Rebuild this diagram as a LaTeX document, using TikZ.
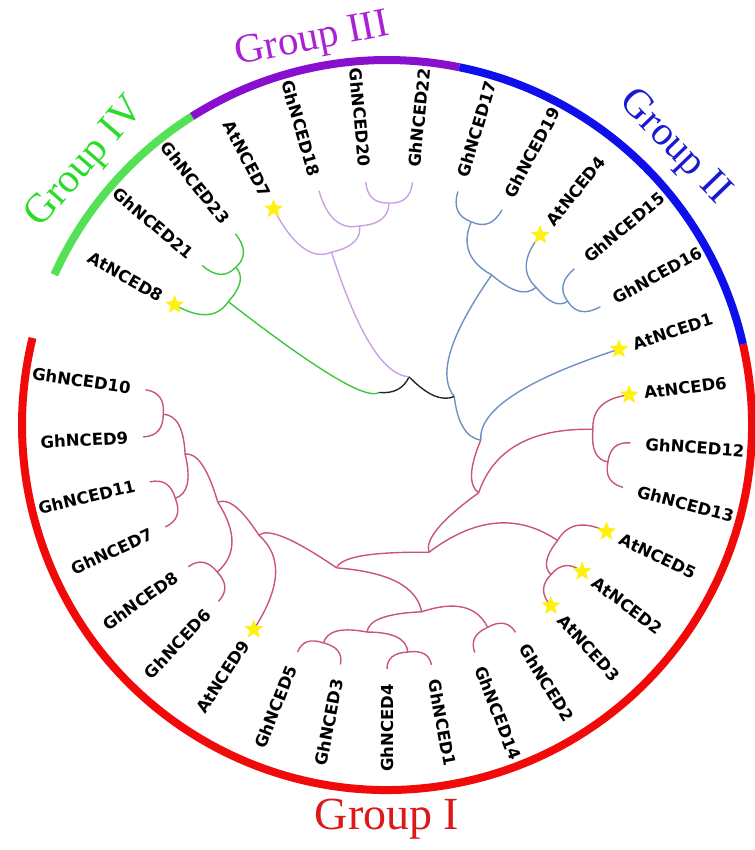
\documentclass[tikz,border=0pt]{standalone}
\usepackage{fontspec}
\usetikzlibrary{calc,shapes.geometric}
\newfontfamily\labfont{DejaVu Sans}
\newfontfamily\grpfont{Liberation Serif}
\definecolor{brR}{RGB}{200,85,115}
\definecolor{brB}{RGB}{110,145,195}
\definecolor{brP}{RGB}{200,160,228}
\definecolor{brG}{RGB}{60,200,60}
\definecolor{rgR}{RGB}{240,10,10}
\definecolor{rgB}{RGB}{15,15,235}
\definecolor{rgP}{RGB}{135,15,205}
\definecolor{rgG}{RGB}{85,225,85}
\definecolor{gI}{RGB}{220,25,25}
\definecolor{gII}{RGB}{25,25,210}
\definecolor{gIII}{RGB}{170,35,210}
\definecolor{gIV}{RGB}{40,220,40}
\definecolor{starY}{RGB}{255,240,20}
\newcommand\leafR[3]{%
  \coordinate (#1) at (#2:244);
  \node[lab, anchor=west, rotate=#2] (#1-l) at (#2:259) {#3};}
\newcommand\leafL[3]{%
  \coordinate (#1) at (#2:244);
  \node[lab, anchor=east, rotate=#2+180] (#1-l) at (#2:259) {#3};}
\newcommand\br[4]{%
  \path ($(O)!#4pt!(#3)$) coordinate (cc);
  \draw[#1] (#2) .. controls ($(#2)!0.667!(cc)$) and ($(#3)!0.667!(cc)$) .. (#3);}
\newcommand\starat[1]{\node[ystar] (#1-s) at (#1) {};}
\begin{document}
\begin{tikzpicture}[x=1pt,y=1pt,
  lab/.style={font=\labfont\bfseries\fontsize{16.5}{18}\selectfont, inner sep=0pt},
  grp/.style={font=\grpfont\fontsize{41}{41}\selectfont, inner sep=0pt, anchor=base},
  red/.style={draw=brR, line width=1.4pt},
  blue/.style={draw=brB, line width=1.4pt},
  purp/.style={draw=brP, line width=1.4pt},
  grn/.style={draw=brG, line width=1.4pt},
  blk/.style={draw=black!85, line width=1.4pt},
  ystar/.style={star, star points=5, star point ratio=2.3, fill=starY, draw=none, minimum size=20pt, inner sep=0pt},
  ring/.style={line width=8pt, line cap=butt}]
\useasboundingbox (-387,-425) rectangle (367,425);
\coordinate (O) at (0,0);
% outer ring
\draw[ring, rgR] (12.8:365) arc[start angle=12.8, end angle=-193.8, radius=365pt];
\draw[ring, rgB] (78.6:365) arc[start angle=78.6, end angle=12.8, radius=365pt];
\draw[ring, rgP] (122.3:365) arc[start angle=122.3, end angle=78.6, radius=365pt];
\draw[ring, rgG] (155.7:365) arc[start angle=155.7, end angle=122.3, radius=365pt];
% group labels
\node[grp, text=gI, font=\grpfont\fontsize{46}{46}\selectfont] (gr1) at (270:404) {Group I};
\node[grp, text=gII, rotate=-46] (gr2) at (44:390) {Group II};
\node[grp, text=gIII, rotate=11] (gr3) at (101:382) {Group III};
\node[grp, text=gIV, rotate=49] (gr4) at (139:390) {Group IV};
% leaves
\leafL{l0}{171.7}{GhNCED10}
\leafL{l1}{182.8}{GhNCED9}
\leafL{l2}{193.5}{GhNCED11}
\leafL{l3}{204.7}{GhNCED7}
\leafL{l4}{215.5}{GhNCED8}
\leafL{l5}{226.3}{GhNCED6}
\leafL{l6}{236.9}{AtNCED9}
\leafL{l7}{248.5}{GhNCED5}
\leafL{l8}{259}{GhNCED3}
\leafL{l9}{270}{GhNCED4}
\leafR{l10}{280.5}{GhNCED1}
\leafR{l11}{291.1}{GhNCED14}
\leafR{l12}{301.8}{GhNCED2}
\leafR{l13}{312.2}{AtNCED3}
\leafR{l14}{323.1}{AtNCED2}
\leafR{l15}{334.1}{AtNCED5}
\leafR{l16}{345.2}{GhNCED13}
\leafR{l17}{355.8}{GhNCED12}
\leafR{l18}{367.1}{AtNCED6}
\leafR{l19}{378.1}{AtNCED1}
\leafR{l20}{389}{GhNCED16}
\leafR{l21}{399.8}{GhNCED15}
\leafR{l22}{411.1}{AtNCED4}
\leafR{l23}{421.9}{GhNCED19}
\leafR{l24}{433.1}{GhNCED17}
\leafR{l25}{444}{GhNCED22}
\leafL{l26}{455}{GhNCED20}
\leafL{l27}{466.2}{GhNCED18}
\leafL{l28}{477.7}{AtNCED7}
\leafL{l29}{488.4}{GhNCED23}
\leafL{l30}{499.2}{GhNCED21}
\leafL{l31}{510.5}{AtNCED8}
% internal nodes
\coordinate (a1) at (177.25:224);
\coordinate (a2) at (199.1:224);
\coordinate (a3) at (188.2:204);
\coordinate (a4) at (220.9:224.6);
\coordinate (a5) at (204.55:186);
\coordinate (a6) at (220.7:169);
\coordinate (a7) at (250.6:151.5);
\coordinate (b3) at (253.75:227);
\coordinate (b5) at (275.25:228);
\coordinate (b2) at (264.5:208);
\coordinate (b4) at (296.45:226);
\coordinate (b1) at (280.5:190);
\coordinate (c2) at (317.65:222);
\coordinate (c1) at (325.9:206);
\coordinate (N5) at (288.25:134);
\coordinate (d2) at (350.5:224);
\coordinate (d1) at (358.8:206);
\coordinate (N4) at (323.5:114);
\coordinate (N3) at (350.8:95);
\coordinate (g2d) at (394.4:219);
\coordinate (g2c) at (402.75:203);
\coordinate (g2b) at (427.5:220);
\coordinate (g2a) at (415.1:183);
\coordinate (N2) at (382.95:73);
\coordinate (p3) at (449.5:222);
\coordinate (p2) at (457.85:201);
\coordinate (p1) at (467.8:181.5);
\coordinate (N1) at (425.4:53);
\coordinate (q2) at (493.8:218.5);
\coordinate (q1) at (502.15:201);
\coordinate (root) at (463.8:33.5);
% Group I branches
\br{red}{a1}{l0}{224} \br{red}{a1}{l1}{224}
\br{red}{a2}{l2}{224} \br{red}{a2}{l3}{224}
\br{red}{a3}{a1}{204} \br{red}{a3}{a2}{204}
\br{red}{a4}{l4}{224.6} \br{red}{a4}{l5}{224.6}
\br{red}{a5}{a3}{186} \br{red}{a5}{a4}{186}
\br{red}{a6}{a5}{169} \br{red}{a6}{l6}{169}
\br{red}{a7}{a6}{151.5} \br{red}{a7}{b1}{151.5}
\br{red}{b3}{l7}{227} \br{red}{b3}{l8}{227}
\br{red}{b5}{l9}{228} \br{red}{b5}{l10}{228}
\br{red}{b2}{b3}{208} \br{red}{b2}{b5}{208}
\br{red}{b4}{l11}{226} \br{red}{b4}{l12}{226}
\br{red}{b1}{b2}{190} \br{red}{b1}{b4}{190}
\br{red}{c2}{l13}{222} \br{red}{c2}{l14}{222}
\br{red}{c1}{l15}{206} \br{red}{c1}{c2}{206}
\br{red}{N5}{a7}{134} \br{red}{N5}{c1}{134}
\br{red}{d2}{l16}{224} \br{red}{d2}{l17}{224}
\br{red}{d1}{l18}{206} \br{red}{d1}{d2}{206}
\br{red}{N4}{N5}{114} \br{red}{N4}{d1}{114}
\br{red}{N3}{N4}{95}
% Group II branches
\br{blue}{N3}{l19}{95}
\br{blue}{N2}{N3}{73} \br{blue}{N2}{g2a}{73}
\br{blue}{g2a}{g2c}{183} \br{blue}{g2a}{g2b}{183}
\br{blue}{g2c}{l22}{203} \br{blue}{g2c}{g2d}{203}
\br{blue}{g2d}{l20}{219} \br{blue}{g2d}{l21}{219}
\br{blue}{g2b}{l23}{220} \br{blue}{g2b}{l24}{220}
% root
\br{blk}{root}{N1}{33.5} \br{blk}{N1}{N2}{53}
% Group III
\br{purp}{N1}{p1}{53}
\br{purp}{p1}{p2}{181.5} \br{purp}{p1}{l28}{181.5}
\br{purp}{p2}{p3}{201} \br{purp}{p2}{l27}{201}
\br{purp}{p3}{l25}{222} \br{purp}{p3}{l26}{222}
% Group IV
\br{grn}{root}{q1}{33.5}
\br{grn}{q1}{q2}{201} \br{grn}{q1}{l31}{201}
\br{grn}{q2}{l29}{218.5} \br{grn}{q2}{l30}{218.5}
% stars
\starat{l6} \starat{l13} \starat{l14} \starat{l15} \starat{l18}
\starat{l19} \starat{l22} \starat{l28} \starat{l31}
\end{tikzpicture}
\end{document}
